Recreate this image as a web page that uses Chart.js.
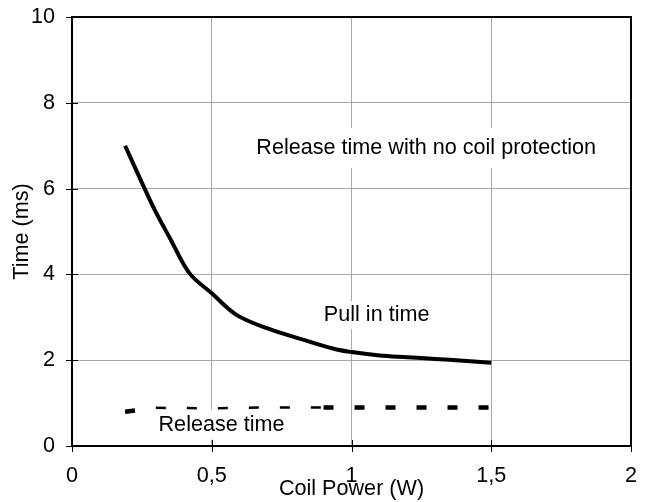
<!DOCTYPE html>
<html lang="en">
<head>
    <meta charset="UTF-8">
    <title>Time vs Coil Power</title>
    <script src="https://cdn.jsdelivr.net/npm/chart.js"></script>
    <style>
        body { margin: 0; background: #fff; }
        #wrap { width: 652px; height: 502px; }
    </style>
</head>
<body>
    <div id="wrap"><canvas id="grafico" width="652" height="502"></canvas></div>

    <script>
        // valores
        const pullInX = [0.19, 0.25, 0.3, 0.35, 0.42, 0.5, 0.59, 0.7, 0.82, 0.94, 1.0, 1.1, 1.2, 1.3, 1.4, 1.5];
        const pullInY = [7.0, 6.14, 5.45, 4.85, 4.03, 3.56, 3.05, 2.74, 2.49, 2.26, 2.19, 2.11, 2.07, 2.03, 1.99, 1.94];
        const releaseX = [0.19, 0.3, 0.5, 0.7, 0.9, 1.0, 1.5];
        const releaseY = [0.8, 0.89, 0.88, 0.9, 0.9, 0.9, 0.9];

        const xTickLabels = ['0', '0,5', '1', '1,5', '2'];
        const yTickLabels = ['0', '2', '4', '6', '8', '10'];

        const textLabels = ['Release time with no coil protection', 'Pull in time', 'Release time'];
        const textX = [1.267, 1.09, 0.535];
        const textY = [6.95, 3.05, 0.5];

        const fonte = '"Liberation Sans", Arial, sans-serif';
        const tam = 21.6;
        const caixa = [[8, 20], [6, 14], [6, 15]];

        const pontos = (xs, ys) => xs.map((x, i) => ({ x: x, y: ys[i] }));

        const extras = {
            id: 'extras',
            beforeDatasetsDraw(chart) {
                const ctx = chart.ctx;
                const sx = chart.scales.x, sy = chart.scales.y;
                ctx.save();
                ctx.font = tam + 'px ' + fonte;
                ctx.textAlign = 'center';
                ctx.textBaseline = 'middle';
                textLabels.forEach((t, i) => {
                    const px = sx.getPixelForValue(textX[i]);
                    const py = sy.getPixelForValue(textY[i]);
                    const w = ctx.measureText(t).width;
                    ctx.fillStyle = '#fff';
                    ctx.fillRect(px - w / 2 - caixa[i][0], py - caixa[i][1], w + 2 * caixa[i][0], 2 * caixa[i][1]);
                    ctx.fillStyle = '#000';
                    ctx.fillText(t, px, py);
                });
                ctx.restore();
            },
            afterDraw(chart) {
                const ctx = chart.ctx;
                const a = chart.chartArea;
                const sx = chart.scales.x, sy = chart.scales.y;
                ctx.save();
                ctx.strokeStyle = '#000';
                ctx.lineWidth = 1;
                ctx.beginPath();
                sx.ticks.forEach(t => {
                    const px = Math.round(sx.getPixelForValue(t.value)) + 0.5;
                    ctx.moveTo(px, a.bottom - 6);
                    ctx.lineTo(px, a.bottom + 6);
                });
                sy.ticks.forEach(t => {
                    const py = Math.round(sy.getPixelForValue(t.value)) + 0.5;
                    ctx.moveTo(a.left - 6, py);
                    ctx.lineTo(a.left + 6, py);
                });
                ctx.stroke();
                ctx.lineWidth = 2;
                ctx.strokeRect(a.left, a.top, a.right - a.left, a.bottom - a.top);
                ctx.restore();
            }
        };

        new Chart(document.getElementById('grafico'), {
            type: 'line',
            data: {
                datasets: [{
                    label: 'Pull in time',
                    data: pontos(pullInX, pullInY),
                    borderColor: '#000',
                    borderWidth: 4,
                    pointRadius: 0,
                    tension: 0.35,
                    fill: false
                }, {
                    label: 'Release time',
                    data: pontos(releaseX, releaseY),
                    borderColor: '#000',
                    borderWidth: 4,
                    borderDash: [10, 21],
                    pointRadius: 0,
                    fill: false,
                    segment: {
                        borderWidth: c => (c.p0.parsed.x >= 0.3 && c.p1.parsed.x <= 0.9) ? 2.5 : 4.5
                    }
                }]
            },
            options: {
                responsive: false,
                animation: false,
                layout: { padding: { top: 17, right: 21, left: 0, bottom: 0 } },
                plugins: {
                    legend: { display: false },
                    tooltip: { enabled: false }
                },
                scales: {
                    x: {
                        type: 'linear',
                        min: 0,
                        max: 2,
                        afterFit: s => { s.height = 56; s.paddingLeft = 0; s.paddingRight = 0; },
                        afterBuildTicks: s => { s.ticks = xTickLabels.map((l, i) => ({ value: i * 0.5 })); },
                        border: { display: false },
                        grid: { color: '#a8a8a8', lineWidth: 1, drawTicks: false },
                        ticks: {
                            padding: 17,
                            color: '#000',
                            font: { family: fonte, size: tam },
                            maxRotation: 0,
                            callback: (v, i) => xTickLabels[i]
                        },
                        title: {
                            display: true,
                            text: 'Coil Power (W)',
                            color: '#000',
                            font: { family: fonte, size: tam },
                            padding: { top: 1, bottom: 0 }
                        }
                    },
                    y: {
                        min: 0,
                        max: 10,
                        afterFit: s => { s.width = 72; s.paddingTop = 0; s.paddingBottom = 0; },
                        afterBuildTicks: s => { s.ticks = yTickLabels.map((l, i) => ({ value: i * 2 })); },
                        border: { display: false },
                        grid: { color: '#a8a8a8', lineWidth: 1, drawTicks: false },
                        ticks: {
                            padding: 17,
                            color: '#000',
                            font: { family: fonte, size: tam },
                            callback: (v, i) => yTickLabels[i]
                        },
                        title: {
                            display: true,
                            text: 'Time (ms)',
                            color: '#000',
                            font: { family: fonte, size: tam },
                            padding: { top: 9, bottom: 0 }
                        }
                    }
                }
            },
            plugins: [extras]
        });
    </script>
</body>
</html>
